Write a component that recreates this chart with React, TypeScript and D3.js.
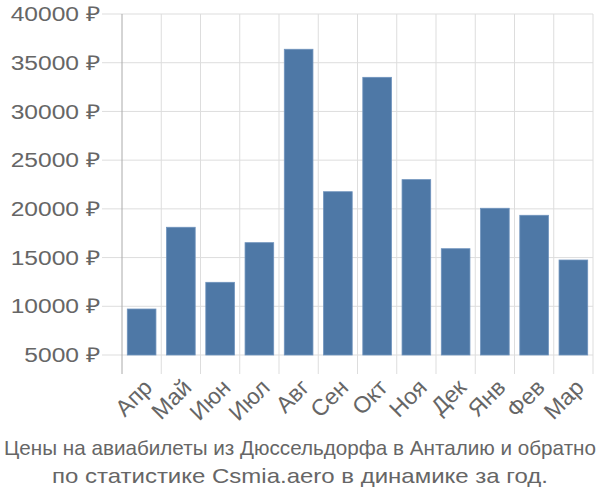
import React from "react";
import * as d3 from "d3";

const months = ["Апр", "Май", "Июн", "Июл", "Авг", "Сен", "Окт", "Ноя", "Дек", "Янв", "Фев", "Мар"];
const prices = [9720, 18110, 12460, 16530, 36380, 21760, 33500, 23000, 15910, 20060, 19340, 14750];
const yTicks = [5000, 10000, 15000, 20000, 25000, 30000, 35000, 40000];
const titleLines = [
  "Цены на авиабилеты из Дюссельдорфа в Анталию и обратно",
  "по статистике Csmia.aero в динамике за год.",
];
const titleWidths = [592, 496];

export default function App() {
  const W = 600, H = 500;
  const left = 122, right = 593, top = 14, bottom = 355;
  const x = d3.scaleBand<string>().domain(months).range([left, right]).paddingInner(0).paddingOuter(0);
  const y = d3.scaleLinear().domain([5000, 40000]).range([bottom, top]);
  const bw = x.bandwidth();
  const barPad = bw * 0.135;
  const font = "'Liberation Sans', Arial, sans-serif";
  const boundaries = months.map((m) => x(m)!).concat([right]);
  return (
    <svg width={W} height={H} style={{ position: "absolute", left: 0, top: 0 }}>
      <rect width={W} height={H} fill="#fff" />
      {yTicks.map((t) => (
        <line key={"h" + t} x1={102} x2={right} y1={y(t)} y2={y(t)} stroke="#dddddd" strokeWidth={1} />
      ))}
      {boundaries.map((b, i) => (
        <line key={"v" + i} x1={b} x2={b} y1={top} y2={374} stroke={i === 0 ? "#aaaaaa" : "#dddddd"} strokeWidth={1} />
      ))}
      {months.map((m, i) => (
        <rect
          key={m}
          x={x(m)! + barPad}
          y={y(prices[i])}
          width={bw - 2 * barPad}
          height={bottom - y(prices[i])}
          fill="#4e78a6"
          stroke="#6f93bd"
          strokeWidth={0.8}
        />
      ))}
      {yTicks.map((t) => (
        <text key={"t" + t} transform={`translate(100 ${y(t)}) scale(1.2 1)`} dy="0.35em" textAnchor="end"
          fontSize={20.5} fill="#666" fontFamily={font}>
          {t} ₽
        </text>
      ))}
      {months.map((m) => {
        const cx = x(m)! + bw / 2 + 3;
        const cy = 380;
        return (
          <text key={"l" + m} x={cx} y={cy} textAnchor="end" fontSize={23} fill="#666" fontFamily={font}
            transform={`rotate(-45 ${cx} ${cy})`} dy="0.55em">
            {m}
          </text>
        );
      })}
      {titleLines.map((l, i) => (
        <text key={"ti" + i} transform={`translate(300 ${455 + i * 28}) scale(1 1.05)`} textAnchor="middle"
          fontSize={20} fill="#666" fontFamily={font}
          textLength={titleWidths[i]} lengthAdjust="spacingAndGlyphs">
          {l}
        </text>
      ))}
    </svg>
  );
}
